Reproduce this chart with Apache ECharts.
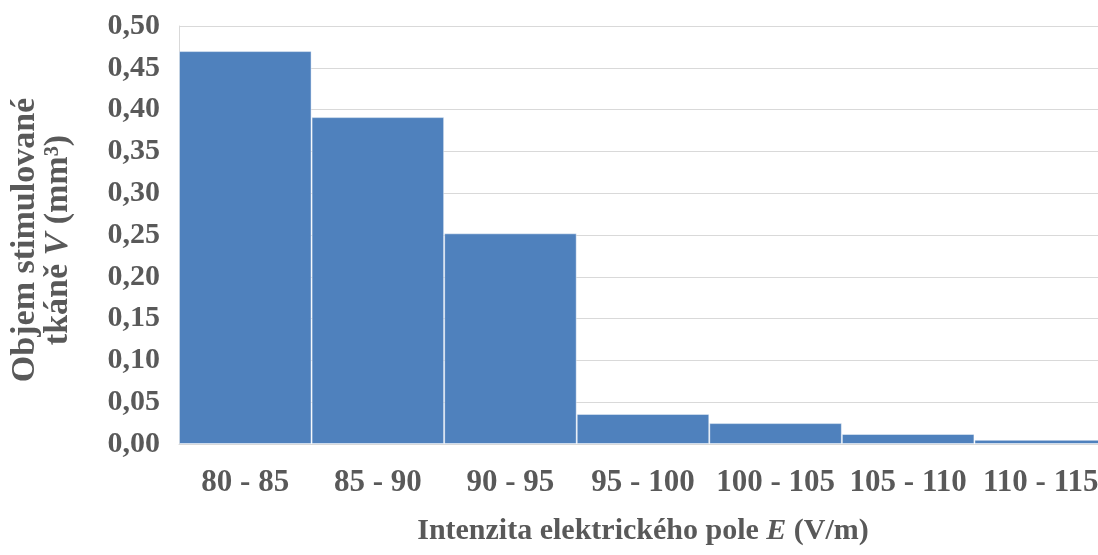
<!DOCTYPE html>
<html>
<head>
<meta charset="utf-8">
<script src="https://cdn.jsdelivr.net/npm/echarts@6/dist/echarts.min.js"></script>
<style>
html,body{margin:0;padding:0;background:#fff;}
#c{width:1098px;height:555px;}
</style>
</head>
<body>
<div id="c"></div>
<script>
var categories = ['80 - 85', '85 - 90', '90 - 95', '95 - 100', '100 - 105', '105 - 110', '110 - 115'];
var volumes = [0.470, 0.391, 0.252, 0.036, 0.025, 0.012, 0.005];
var yTicks = { min: 0, max: 0.5, interval: 0.05 };

var FONT = '"Liberation Serif", "Times New Roman", serif';
var TXT = '#595959';

var chart = echarts.init(document.getElementById('c'), null, { renderer: 'canvas' });
chart.setOption({
  animation: false,
  backgroundColor: '#ffffff',
  grid: { left: 179, top: 26, width: 928, height: 418, containLabel: false, outerBoundsMode: 'none' },
  xAxis: {
    type: 'category',
    data: categories,
    axisLine: { show: true, lineStyle: { color: '#d9d9d9', width: 1 } },
    axisTick: { show: false },
    axisLabel: {
      interval: 0, margin: 23, hideOverlap: false,
      color: TXT, fontFamily: FONT, fontWeight: 'bold', fontSize: 31
    },
    name: 'Intenzita elektrického pole {i|E} (V/m)',
    nameLocation: 'middle',
    nameGap: 72,
    nameTextStyle: {
      color: TXT, fontFamily: FONT, fontWeight: 'bold', fontSize: 30,
      rich: { i: { color: TXT, fontFamily: FONT, fontWeight: 'bold', fontStyle: 'italic', fontSize: 30 } }
    }
  },
  yAxis: {
    type: 'value',
    min: yTicks.min, max: yTicks.max, interval: yTicks.interval,
    axisLine: { show: true, lineStyle: { color: '#d9d9d9', width: 1 } },
    axisTick: { show: false },
    splitLine: { show: true, lineStyle: { color: '#d9d9d9', width: 1 } },
    axisLabel: {
      margin: 19, padding: [6, 0, 0, 0],
      color: TXT, fontFamily: FONT, fontWeight: 'bold', fontSize: 30,
      formatter: function (v) { return v.toFixed(2).replace('.', ','); }
    }
  },
  series: [{
    type: 'bar',
    data: volumes,
    barWidth: '100%',
    barGap: '0%',
    barCategoryGap: '0%',
    itemStyle: { color: '#4f81bd', borderColor: 'rgba(255,255,255,0.45)', borderWidth: 1 }
  }],
  graphic: [{
    type: 'text',
    x: 42, y: 240,
    rotation: Math.PI / 2,
    style: {
      text: 'Objem stimulované\ntkáně {i|V} (mm³)',
      fill: TXT,
      fontFamily: FONT, fontWeight: 'bold', fontSize: 34,
      lineHeight: 33,
      align: 'center',
      verticalAlign: 'middle',
      rich: { i: { fill: TXT, fontFamily: FONT, fontWeight: 'bold', fontStyle: 'italic', fontSize: 34, lineHeight: 33 } }
    }
  }]
});
</script>
</body>
</html>
